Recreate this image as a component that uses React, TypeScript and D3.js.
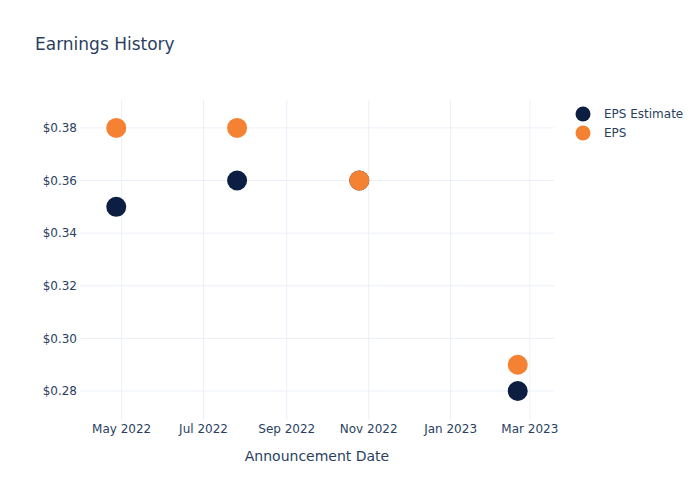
import React from "react";
import * as d3 from "d3";

const dates = ["2022-04-27", "2022-07-26", "2022-10-25", "2023-02-20"];
const epsEstimate = [0.35, 0.36, 0.36, 0.28];
const eps = [0.38, 0.38, 0.36, 0.29];
const yTicks = [0.28, 0.30, 0.32, 0.34, 0.36, 0.38];
const xTicks = ["2022-05-01", "2022-07-01", "2022-09-01", "2022-11-01", "2023-01-01", "2023-03-01"];
const seriesNames = ["EPS Estimate", "EPS"];
const seriesColors = ["#0c1f42", "#f58233"];

const W = 700, H = 500;
const L = 80, R = 554, T = 100, B = 420;
const FONT = '"DejaVu Sans", verdana, arial, sans-serif';
const TXT = "#2a3f5f";

export default function App() {
  const parse = d3.utcParse("%Y-%m-%d");
  const x = d3.scaleUtc()
    .domain([parse("2022-03-31")!, parse("2023-03-19")!])
    .range([L, R]);
  const y = d3.scaleLinear().domain([0.269, 0.3906]).range([B, T]);
  const fmtX = d3.utcFormat("%b %Y");
  const series = [epsEstimate, eps];

  return (
    <svg width={W} height={H} style={{ position: "absolute", left: 0, top: 0, background: "#fff" }} fontFamily={FONT}>
      <rect x={0} y={0} width={W} height={H} fill="#fff" />
      {xTicks.map((t) => {
        const px = x(parse(t)!);
        return <line key={"gx" + t} x1={px} x2={px} y1={T} y2={B} stroke="#ebf0f8" strokeWidth={1} />;
      })}
      {yTicks.map((t) => {
        const py = y(t);
        return <line key={"gy" + t} x1={L} x2={R} y1={py} y2={py} stroke="#ebf0f8" strokeWidth={1} />;
      })}
      {yTicks.map((t) => (
        <text key={"ty" + t} x={L - 3} y={y(t)} dy="0.35em" textAnchor="end" fontSize={12} fill={TXT}>
          {"$" + t.toFixed(2)}
        </text>
      ))}
      {xTicks.map((t) => (
        <text key={"tx" + t} x={x(parse(t)!)} y={B + 13} textAnchor="middle" fontSize={12} fill={TXT}>
          {fmtX(parse(t)!)}
        </text>
      ))}
      {series.map((vals, si) =>
        vals.map((v, i) => (
          <circle key={si + "-" + i} cx={x(parse(dates[i])!)} cy={y(v)} r={10} fill={seriesColors[si]} />
        ))
      )}
      <text x={35} y={50} fontSize={17} fill={TXT}>Earnings History</text>
      <text x={(L + R) / 2} y={461} textAnchor="middle" fontSize={14} fill={TXT}>Announcement Date</text>
      {seriesNames.map((n, i) => (
        <g key={n} transform={`translate(0, ${114 + i * 19})`}>
          <circle cx={583} cy={0} r={7.5} fill={seriesColors[i]} />
          <text x={604} y={0} dy="0.35em" fontSize={12} fill={TXT}>{n}</text>
        </g>
      ))}
    </svg>
  );
}
